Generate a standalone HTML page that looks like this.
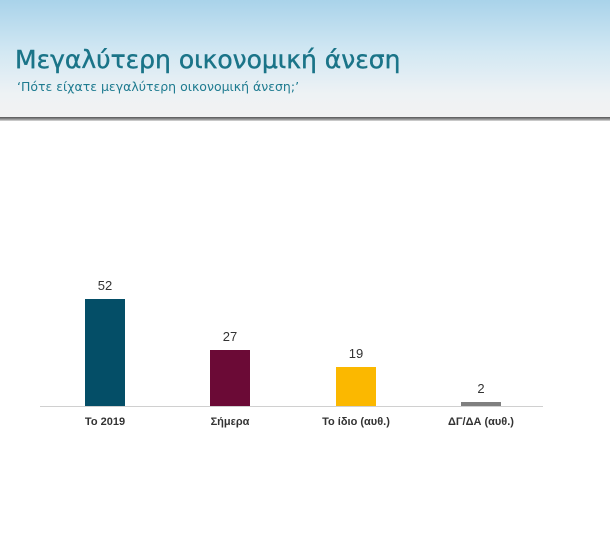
<!DOCTYPE html>
<html><head><meta charset="utf-8"><style>
body{margin:0;width:610px;height:538px;overflow:hidden;background:#fff;font-family:"Liberation Sans","DejaVu Sans",sans-serif;position:relative}
.hdr{position:absolute;left:0;top:0;width:610px;height:118px;background:linear-gradient(180deg,#a9d3ea 0%,#d3e8f3 45%,#eef2f4 80%,#f2f2f2 100%)}
.sh{position:absolute;left:0;top:117px;width:610px;height:4px;background:linear-gradient(180deg,#555,#999 60%,#ddd)}
.t{position:absolute;left:15px;top:45px;font-size:25px;color:#1a7488;font-family:"DejaVu Sans",sans-serif;-webkit-text-stroke:0.4px #1a7488}
.s{position:absolute;left:17px;top:79px;font-size:12.5px;color:#1e7b90;font-family:"DejaVu Sans",sans-serif}
.bar{position:absolute;width:40px}
.v,.l{position:absolute;width:120px;text-align:center;font-size:13px;color:#333}
.l{font-size:11px;font-weight:bold;top:416px;color:#333}
</style></head><body>
<div class="hdr"></div><div class="sh"></div>
<div class="t">Μεγαλύτερη οικονομική άνεση</div>
<div class="s">‘Πότε είχατε μεγαλύτερη οικονομική άνεση;’</div>
<div style="position:absolute;left:40px;top:406px;width:503px;height:1px;background:#d0d0d0"></div>
<div class="bar" style="left:85px;top:299px;height:107px;background:#044e67"></div>
<div class="bar" style="left:210px;top:350px;height:56px;background:#6b0a36"></div>
<div class="bar" style="left:336px;top:367px;height:39px;background:#fbb800"></div>
<div class="bar" style="left:461px;top:402px;height:4px;background:#7f7f7f"></div>
<div class="v" style="left:45px;top:278px">52</div>
<div class="v" style="left:170px;top:329px">27</div>
<div class="v" style="left:296px;top:346px">19</div>
<div class="v" style="left:421px;top:381px">2</div>
<div class="l" style="left:45px">Το 2019</div>
<div class="l" style="left:170px">Σήμερα</div>
<div class="l" style="left:296px">Το ίδιο (αυθ.)</div>
<div class="l" style="left:421px">ΔΓ/ΔΑ (αυθ.)</div>
</body></html>
